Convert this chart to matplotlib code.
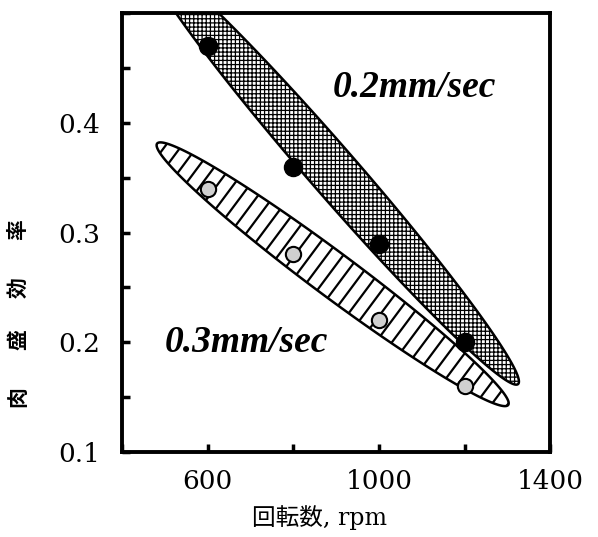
import numpy as np
import matplotlib.pyplot as plt
from matplotlib.patches import Polygon
from matplotlib.ticker import MultipleLocator, FixedLocator

# data
rpm = [600, 800, 1000, 1200]
eff_02 = [0.47, 0.36, 0.29, 0.20]   # 0.2 mm/sec (black dots)
eff_03 = [0.34, 0.28, 0.22, 0.16]   # 0.3 mm/sec (grey dots)

x_ticks = [600, 1000, 1400]
y_ticks = [0.1, 0.2, 0.3, 0.4]
y_label_chars = ['肉', '盛', '効', '率']

# ends of the two shaded bands, data units
band_02 = [(460, 0.55), (1325, 0.162)]
band_03 = [(482, 0.381), (1302, 0.143)]

plt.rcParams['hatch.linewidth'] = 0.9

fig = plt.figure(figsize=(5.98, 5.37), dpi=100)
ax = fig.add_axes([0.204, 0.158, 0.716, 0.818])
ax.set_xlim(400, 1400)
ax.set_ylim(0.1, 0.5)


def band(ends, half_w, n=300):
    """Ellipse between two end points, built in pixel space."""
    p = ax.transData.transform(ends)
    c = p.mean(axis=0)
    d = p[1] - p[0]
    a = np.hypot(*d) / 2
    u = d / np.hypot(*d)
    v = np.array([-u[1], u[0]])
    t = np.linspace(0, 2 * np.pi, n)
    pts = c + np.outer(a * np.cos(t), u) + np.outer(half_w * np.sin(t), v)
    return ax.transData.inverted().transform(pts), (c, u, v, a)


# striped band (0.3 mm/sec)
pts3, (c, u, v, a) = band(band_03, 22)
ell3 = Polygon(pts3, closed=True, facecolor='white', edgecolor='black',
               linewidth=1.8, zorder=1)
ax.add_patch(ell3)
for s in np.arange(-a + 8, a, 13):
    seg = np.array([c + s * u - 30 * v, c + s * u + 30 * v])
    seg = ax.transData.inverted().transform(seg)
    ln, = ax.plot(seg[:, 0], seg[:, 1], color='black', lw=1.6, zorder=1.5)
    ln.set_clip_path(ell3)

# cross-hatched band (0.2 mm/sec)
pts2, _ = band(band_02, 24)
ell2 = Polygon(pts2, closed=True, facecolor='white', edgecolor='black',
               linewidth=1.8, hatch='++++', zorder=2)
ax.add_patch(ell2)

ax.plot(rpm, eff_02, 'o', ms=13, color='black', zorder=4)
ax.plot(rpm, eff_03, 'o', ms=11, mfc='#d0d0d0', mec='black', mew=1.5, zorder=4)

ax.text(893, 0.432, '0.2mm/sec', fontsize=27, family='Liberation Serif',
        weight='bold', style='italic', va='center', ha='left')
ax.text(500, 0.2, '0.3mm/sec', fontsize=27, family='Liberation Serif',
        weight='bold', style='italic', va='center', ha='left')

ax.xaxis.set_major_locator(FixedLocator(x_ticks))
ax.xaxis.set_minor_locator(MultipleLocator(200))
ax.yaxis.set_major_locator(FixedLocator(y_ticks))
ax.yaxis.set_minor_locator(MultipleLocator(0.05))
ax.set_xticklabels([str(t) for t in x_ticks], family='DejaVu Serif', fontsize=19)
ax.set_yticklabels([f'{t:.1f}' for t in y_ticks], family='DejaVu Serif', fontsize=19)
ax.tick_params(which='both', direction='in', length=6, width=2.5,
               top=False, right=False)
ax.tick_params(axis='y', pad=16)
ax.tick_params(axis='x', pad=12)
for sp in ax.spines.values():
    sp.set_linewidth(2.8)

fig.text(320 / 598, 1 - 518 / 537, '回転数, rpm', fontsize=17,
         family=['DejaVu Serif', 'Noto Sans CJK JP'], ha='center', va='center')
for ch, ypx in zip(y_label_chars, [397, 340, 288, 230]):
    fig.text(18 / 598, 1 - ypx / 537, ch, fontsize=15, rotation=90,
             family='Noto Sans CJK JP', weight='bold', ha='center', va='center')

fig.savefig('out.png', dpi=100)
